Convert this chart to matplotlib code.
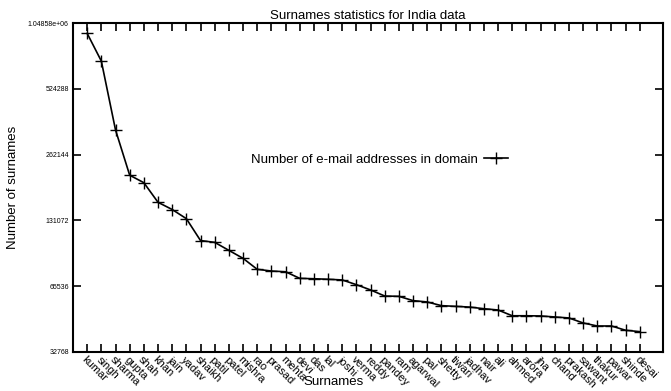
import numpy as np
import matplotlib
matplotlib.use("Agg")
import matplotlib.pyplot as plt
from matplotlib.ticker import FixedLocator, FixedFormatter, NullLocator

plt.rcParams['font.family'] = ['Liberation Sans', 'DejaVu Sans']

# surnames and counts
surnames = ["kumar", "singh", "sharma", "gupta", "shah", "khan", "jain", "yadav",
            "shaikh", "patil", "patel", "mishra", "rao", "prasad", "mehta", "devi",
            "das", "lal", "joshi", "verma", "reddy", "pandey", "ram", "agarwal",
            "pal", "shetty", "tiwari", "jadhav", "nair", "ali", "ahmed", "arora",
            "jha", "chand", "prakash", "sawant", "thakur", "pawar", "shinde", "desai"]
counts = [940000, 702000, 340000, 211000, 195000, 158600, 147000, 133500,
          106000, 104000, 95600, 87900, 78300, 76900, 76300, 71200,
          70900, 70500, 70000, 66600, 63000, 59100, 58900, 56300,
          55500, 53400, 53000, 52600, 51700, 51000, 48000, 48000,
          47900, 47400, 46900, 44500, 43100, 43100, 41200, 40600]
ytick_vals = [32768, 65536, 131072, 262144, 524288, 1048576]
ytick_labels = ["32768", "65536", "131072", "262144", "524288", "1.04858e+06"]

x = np.arange(1, len(surnames) + 1)

fig = plt.figure(figsize=(6.71, 3.91), dpi=100)
ax = fig.add_axes([73/671, 39/391, 590/671, 329/391])

ax.plot(x, counts, color='black', lw=1.2, marker='+', ms=9, mew=1.0,
        label="Number of e-mail addresses in domain")

ax.set_yscale('log', base=2)
ax.set_ylim(32768, 1048576)
ax.set_xlim(0, 41.64)

ax.yaxis.set_major_locator(FixedLocator(ytick_vals))
ax.yaxis.set_major_formatter(FixedFormatter(ytick_labels))
ax.yaxis.set_minor_locator(NullLocator())
ax.set_xticks(x)
ax.set_xticklabels(surnames, rotation=-45, ha='left', va='top',
                   rotation_mode='anchor', fontsize=8)
ax.tick_params(axis='y', labelsize=5, direction='in', length=6, width=1.2,
               right=True, pad=3)
ax.tick_params(axis='x', direction='in', length=6, width=1.2, top=True, pad=2)
for s in ax.spines.values():
    s.set_linewidth(1.5)

ax.set_title("Surnames statistics for India data", fontsize=9.5, pad=3)
ax.set_ylabel("Number of surnames", fontsize=9.5)
ax.yaxis.set_label_coords(-0.092, 0.5)
ax.set_xlabel("Surnames", fontsize=9.5)
ax.xaxis.set_label_coords(0.442, -0.072)

ax.legend(loc='center right', bbox_to_anchor=(508/671, 1 - 160/391),
          bbox_transform=fig.transFigure, frameon=False, markerfirst=False,
          fontsize=9.5, handlelength=1.8, borderpad=0, borderaxespad=0,
          handletextpad=0.5)

fig.savefig("out.png", dpi=100)
